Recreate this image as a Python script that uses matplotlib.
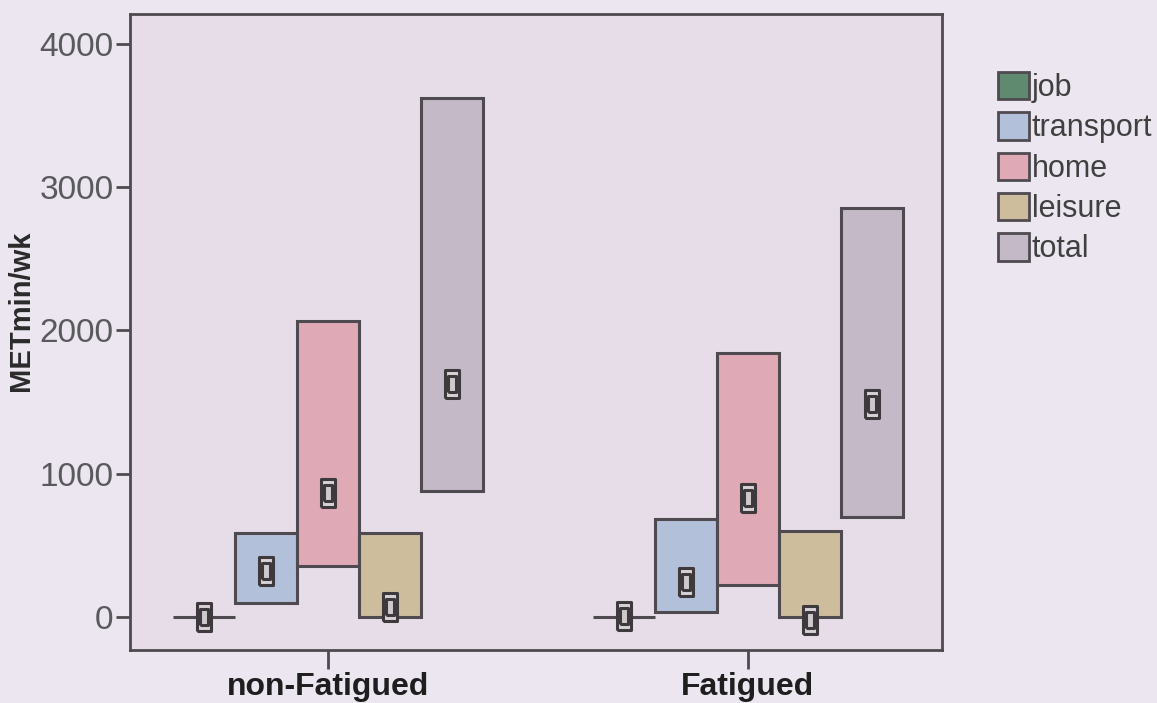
import matplotlib
matplotlib.use("Agg")
import matplotlib.pyplot as plt
from matplotlib.patches import Patch
import numpy as np

groups = ["non-Fatigued", "Fatigued"]
series = ["job", "transport", "home", "leisure", "total"]
# lower edge, upper edge, median marker (MET min/wk)
q1 = {"job": [0, 0], "transport": [98, 37], "home": [358, 223], "leisure": [0, 0], "total": [880, 700]}
q3 = {"job": [0, 0], "transport": [590, 682], "home": [2068, 1845], "leisure": [586, 603], "total": [3623, 2853]}
med = {"job": [0, 10], "transport": [323, 242], "home": [868, 828], "leisure": [72, -20], "total": [1624, 1487]}
yticks = [0, 1000, 2000, 3000, 4000]

colors = {"job": "#5f8a70", "transport": "#b3c0d9", "home": "#dfa9b6",
          "leisure": "#cdbd9d", "total": "#c4bac7"}
edge = "#4f4a50"

plt.rcParams['font.family'] = ['Liberation Sans', 'DejaVu Sans']
fig = plt.figure(figsize=(11.57, 7.03), dpi=100, facecolor="#ebe6ef")
ax = fig.add_axes([130/1157, 1-650/703, (942-130)/1157, (650-14)/703])
ax.set_facecolor("#e7dde8")

w = 62/420
x = np.arange(len(groups))
outer = [(-0.5, -1), (0.5, -1), (0.5, 1), (-0.5, 1), (-0.5, -1)]
for i, s in enumerate(series):
    xs = x + (i - 2) * w
    lo = np.array(q1[s]); hi = np.array(q3[s])
    ax.bar(xs, hi - lo, bottom=lo, width=w, color=colors[s], edgecolor=edge,
           linewidth=2.2, zorder=2)
    ax.plot(xs, med[s], linestyle="none", marker=outer, markersize=20,
            markerfacecolor="#d8d2d6", markeredgecolor="#3d393d", markeredgewidth=2.2, zorder=3)
    ax.plot(xs, med[s], linestyle="none", marker=outer, markersize=11,
            markerfacecolor="#cfc9cd", markeredgecolor="#3d393d", markeredgewidth=2.2, zorder=4)

ax.set_xlim(-0.471, 1.462)
ax.set_ylim(-230, 4209)
ax.set_yticks(yticks)
ax.set_yticklabels([str(v) for v in yticks], fontsize=24, color="#5a5a5e")
ax.set_xticks(x)
ax.set_xticklabels(groups, fontsize=23, fontweight="bold", color="#1e1e1e")
ax.tick_params(axis="y", length=10, width=2, color=edge, pad=2)
ax.tick_params(axis="x", length=14, width=2, color=edge, pad=2)
for sp in ax.spines.values():
    sp.set_color(edge)
    sp.set_linewidth(2)
ax.set_ylabel("METmin/wk", fontsize=21, fontweight="bold", color="#2a2a2a")
ax.yaxis.set_label_coords(-0.117, 0.533)

handles = [Patch(facecolor=colors[s], edgecolor=edge, linewidth=2) for s in series]
fig.legend(handles, series, loc="upper left", bbox_to_anchor=(0.852, 0.915),
           frameon=False, fontsize=22, handlelength=1.0, handleheight=1.0,
           handletextpad=0.1, labelspacing=0.3, borderaxespad=0, labelcolor="#404040")

fig.savefig("out.png", dpi=100, facecolor=fig.get_facecolor())
